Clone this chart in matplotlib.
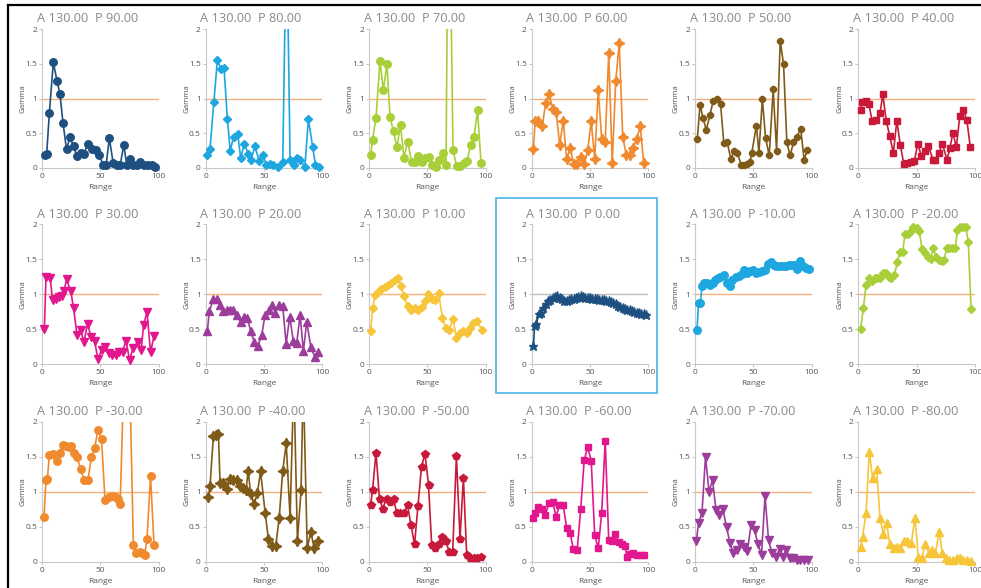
import matplotlib
matplotlib.use("Agg")
import matplotlib.pyplot as plt
import numpy as np
from matplotlib.lines import Line2D
from matplotlib.patches import Rectangle

plt.rcParams['font.family'] = ['Open Sans', 'DejaVu Sans']

# ---- data (Range vs Gamma for each phase P) ----
phases = [90, 80, 70, 60, 50, 40, 30, 20, 10, 0, -10, -20, -30, -40, -50, -60, -70, -80]
amp = 130.0

x_p90 = [2.6, 4, 6.3, 9.7, 12.9, 15.4, 18, 21, 24, 27, 30, 33, 36, 39, 42.6, 46, 49, 52.6, 55, 57.7,
         61, 64, 67, 70, 72.6, 75, 78, 81, 84, 87, 90.6, 94, 97]
g_p90 = [0.19, 0.2, 0.79, 1.52, 1.25, 1.06, 0.65, 0.27, 0.44, 0.31, 0.17, 0.21, 0.2, 0.35, 0.28, 0.26,
         0.18, 0.04, 0.05, 0.43, 0.07, 0.04, 0.04, 0.33, 0.05, 0.13, 0.05, 0.04, 0.08, 0.04, 0.04, 0.05, 0.02]

x_p80 = [1.4, 3.7, 7, 10, 13, 15.7, 18.6, 21, 24, 27.4, 30, 33, 36.6, 39, 42, 46, 49, 52, 55, 58,
         62, 66, 69.3, 72.3, 75.7, 78.6, 81, 85, 88, 91.7, 94, 97]
g_p80 = [0.19, 0.28, 0.95, 1.55, 1.43, 1.44, 0.7, 0.25, 0.45, 0.49, 0.14, 0.35, 0.2, 0.12, 0.31, 0.1,
         0.19, 0.04, 0.06, 0.04, 0.02, 0.08, 3.6, 0.12, 0.05, 0.14, 0.11, 0.02, 0.7, 0.3, 0.05, 0.02]

x_p70 = [1.4, 3, 6, 9.4, 12.3, 15.4, 18, 21, 24, 27, 30, 33, 36.6, 39, 42, 45, 48, 51, 54, 57,
         60, 63, 66, 68.2, 72, 75, 78, 81, 84, 87, 90, 93, 96]
g_p70 = [0.18, 0.41, 0.72, 1.54, 1.12, 1.5, 0.73, 0.53, 0.3, 0.62, 0.14, 0.38, 0.09, 0.08, 0.17, 0.09,
         0.15, 0.16, 0.04, 0.02, 0.12, 0.22, 0.04, 4.9, 0.26, 0.03, 0.03, 0.07, 0.1, 0.33, 0.45, 0.83, 0.07]

x_p60 = [1.4, 3, 5.7, 9, 12, 15, 18, 21, 24, 27, 30, 33, 36, 39, 42, 45, 48, 51, 54, 57,
         60, 63, 66, 69, 72, 75, 78, 81, 84, 87, 90, 93, 96]
g_p60 = [0.27, 0.68, 0.68, 0.6, 0.94, 1.06, 0.85, 0.8, 0.33, 0.68, 0.13, 0.29, 0.06, 0.06, 0.16, 0.06,
         0.26, 0.67, 0.13, 1.12, 0.42, 0.37, 1.66, 0.07, 1.25, 1.8, 0.45, 0.19, 0.19, 0.29, 0.42, 0.6, 0.07]

x_p50 = [2, 4.3, 6.8, 9.7, 12.8, 15.6, 18.5, 21.9, 24.7, 27.6, 30.7, 33.2, 36.4, 39.5, 42.3, 44.6, 46.9,
         48.6, 52.6, 54.8, 57.7, 60.5, 63.6, 67, 69.9, 73, 75.9, 78.7, 81.5, 84.4, 87.2, 90.6, 93.5, 96.3]
g_p50 = [0.42, 0.91, 0.72, 0.55, 0.76, 0.97, 0.99, 0.92, 0.36, 0.37, 0.13, 0.24, 0.21, 0.05, 0.05, 0.06,
         0.08, 0.21, 0.61, 0.22, 0.99, 0.43, 0.18, 1.13, 0.25, 1.83, 1.49, 0.37, 0.18, 0.37, 0.45, 0.56, 0.12, 0.26]

x_p40 = [2, 3.4, 6.6, 9, 12, 15, 18.6, 21, 24, 27, 30, 33, 36, 39, 42, 45, 48, 51, 54, 57,
         60, 64, 66, 69, 72, 76, 78.6, 81, 84, 87, 90, 93, 96]
g_p40 = [0.84, 0.95, 0.96, 0.92, 0.67, 0.69, 0.79, 1.06, 0.67, 0.46, 0.21, 0.68, 0.33, 0.06, 0.07, 0.08,
         0.1, 0.35, 0.17, 0.25, 0.32, 0.12, 0.12, 0.21, 0.35, 0.12, 0.29, 0.51, 0.3, 0.75, 0.84, 0.69, 0.3]

x_p30 = [2, 3.4, 7, 9, 12, 14.6, 17, 19, 21, 24.6, 27, 30, 33, 36, 39, 42, 45, 48, 51, 54,
         57, 60, 63, 66, 69, 72, 75, 78, 82, 85, 87, 90, 93, 96]
g_p30 = [0.5, 1.25, 1.24, 0.92, 0.94, 0.96, 0.97, 1.05, 1.22, 1.05, 0.81, 0.42, 0.49, 0.32, 0.58, 0.39,
         0.34, 0.07, 0.21, 0.25, 0.16, 0.14, 0.13, 0.18, 0.18, 0.34, 0.06, 0.23, 0.32, 0.2, 0.56, 0.75, 0.17, 0.41]

x_p20 = [1.4, 3.1, 6.6, 9.4, 12.3, 15.1, 18, 20.9, 23.7, 26.6, 30, 32.9, 35.7, 38.6, 41.7, 44.6, 48,
         50.9, 54, 56.9, 59.7, 62.6, 66, 68.9, 72, 75.1, 78, 80.9, 83.7, 86.6, 90, 93.7, 96.6]
g_p20 = [0.47, 0.76, 0.93, 0.93, 0.85, 0.76, 0.78, 0.78, 0.78, 0.71, 0.6, 0.68, 0.66, 0.47, 0.32, 0.26,
         0.42, 0.71, 0.78, 0.85, 0.73, 0.85, 0.84, 0.29, 0.68, 0.33, 0.3, 0.71, 0.19, 0.61, 0.25, 0.1, 0.17]

x_p10 = [1.4, 3.1, 5.1, 8, 10.6, 13.7, 16.6, 19.1, 22, 24.6, 27.1, 30, 33.1, 36, 39.1, 42, 45.1, 48,
         50.9, 53.7, 56.9, 59.7, 62.9, 65.7, 68.6, 72, 74.9, 78, 80.9, 83.7, 86.6, 89.4, 92.3, 96.9]
g_p10 = [0.48, 0.8, 0.99, 1.03, 1.08, 1.11, 1.13, 1.17, 1.2, 1.23, 1.12, 0.98, 0.83, 0.78, 0.8, 0.78,
         0.82, 0.9, 1.01, 0.94, 0.92, 1.02, 0.66, 0.52, 0.49, 0.65, 0.37, 0.45, 0.47, 0.45, 0.52, 0.59, 0.62, 0.49]

x_p0 = [1.5, 2.5, 4, 6, 8, 10, 12, 14, 16, 18, 20, 22, 24, 26, 28, 30, 32, 34, 36, 38, 40, 42, 44,
        46, 48, 50, 52, 54, 56, 58, 60, 62, 64, 66, 68, 70, 72, 74, 76, 78, 80, 82, 84, 86, 88, 90,
        92, 94, 96, 98]
g_p0 = [0.26, 0.55, 0.57, 0.72, 0.74, 0.8, 0.86, 0.9, 0.92, 0.95, 0.96, 0.97, 0.95, 0.94, 0.91, 0.91,
        0.92, 0.93, 0.94, 0.95, 0.96, 0.97, 0.96, 0.95, 0.95, 0.95, 0.94, 0.93, 0.93, 0.92, 0.92, 0.92,
        0.91, 0.9, 0.89, 0.87, 0.86, 0.84, 0.82, 0.8, 0.79, 0.78, 0.77, 0.76, 0.75, 0.74, 0.73, 0.72, 0.72, 0.71]

x_m10 = [1.7, 3, 4.6, 6, 8, 10, 12.6, 15, 17, 19.4, 21.7, 24.6, 27.4, 30, 32, 35, 37.7, 40, 42, 44.6,
         47, 50, 52.6, 55, 57.7, 60, 62.3, 65, 67.4, 69.7, 72.6, 75, 77.7, 80.6, 83, 85, 87.4, 90, 92.6,
         95.4, 97.7]
g_m10 = [0.49, 0.87, 0.87, 1.12, 1.17, 1.16, 1.13, 1.17, 1.2, 1.23, 1.25, 1.28, 1.17, 1.12, 1.2, 1.25,
         1.27, 1.29, 1.35, 1.3, 1.33, 1.35, 1.3, 1.32, 1.33, 1.35, 1.44, 1.47, 1.42, 1.4, 1.4, 1.41, 1.4,
         1.42, 1.42, 1.42, 1.36, 1.48, 1.4, 1.38, 1.37]

x_m20 = [2, 4.3, 6.6, 9, 11.7, 14, 16, 18.6, 21.4, 23.7, 26, 28, 31, 33.4, 35.7, 38, 40, 42.6, 45, 47,
         50, 52.3, 54.6, 57, 59.4, 62, 64, 66.6, 69, 71.4, 73.4, 75.7, 78, 80.6, 83, 85, 87.4, 89.7, 92,
         94.3, 96.6]
g_m20 = [0.51, 0.8, 1.13, 1.23, 1.19, 1.23, 1.24, 1.24, 1.3, 1.3, 1.25, 1.24, 1.28, 1.46, 1.6, 1.6,
         1.87, 1.87, 1.9, 1.97, 1.95, 1.9, 1.65, 1.59, 1.54, 1.5, 1.66, 1.54, 1.49, 1.48, 1.49, 1.66, 1.67,
         1.66, 1.66, 1.92, 1.97, 1.97, 1.97, 1.75, 0.79]

x_m30 = [1.7, 3.4, 4.6, 6.3, 9, 12.6, 15, 17.7, 20.6, 23, 25, 27.4, 30, 33, 36, 39.4, 42.3, 45, 48, 51,
         54, 57, 60, 63, 65, 67, 73, 78.3, 80.6, 84, 86, 88, 90, 93, 96]
g_m30 = [0.64, 1.17, 1.18, 1.52, 1.54, 1.44, 1.55, 1.67, 1.65, 1.64, 1.65, 1.55, 1.49, 1.33, 1.17, 1.17,
         1.49, 1.62, 1.88, 1.75, 0.88, 0.92, 0.94, 0.92, 0.89, 0.83, 4.3, 0.24, 0.13, 0.14, 0.12, 0.1,
         0.33, 1.22, 0.24]

x_m40 = [2.3, 3.7, 6.6, 8.9, 10.9, 12.3, 15, 18, 21, 23.7, 26.6, 29.4, 32, 34.6, 36.3, 38.6, 41.4, 44.3,
         47, 51, 53.7, 57, 60, 63, 66, 69, 72.3, 75.5, 78.6, 81.7, 83.6, 87, 90, 93, 96.6]
g_m40 = [0.93, 1.08, 1.8, 1.81, 1.83, 1.12, 1.13, 1.04, 1.18, 1.17, 1.17, 1.08, 1.05, 1.02, 1.3, 0.97,
         0.82, 0.98, 1.29, 0.69, 0.33, 0.22, 0.22, 0.63, 1.3, 1.69, 0.63, 2.6, 0.3, 1.02, 2.6, 0.19, 0.43,
         0.19, 0.29]

x_m50 = [1.4, 3, 6, 9, 11.7, 15, 18, 21, 23.7, 26.6, 30, 33, 36, 39, 42, 45, 48, 51, 53.7, 56.6, 59.7,
         62.9, 65.7, 68.9, 71.7, 74.9, 78, 80.9, 83.7, 86.6, 89.7, 92.9, 95.7]
g_m50 = [0.81, 1.02, 1.56, 0.89, 0.76, 0.9, 0.86, 0.9, 0.7, 0.7, 0.69, 0.81, 0.52, 0.25, 0.8, 1.36,
         1.54, 1.1, 0.24, 0.19, 0.25, 0.36, 0.29, 0.14, 0.14, 1.51, 0.33, 1.2, 0.1, 0.05, 0.05, 0.05, 0.07]

x_m60 = [1.4, 3, 5.7, 8.9, 11.7, 14.9, 18, 20.9, 23.7, 27, 30, 32.9, 35.7, 39, 42, 45, 48, 51, 54, 57,
         60, 63, 66, 68.9, 71.7, 74.6, 77.4, 80.3, 81.4, 84.3, 87, 90.6, 93.4, 96.3]
g_m60 = [0.62, 0.7, 0.78, 0.75, 0.67, 0.84, 0.86, 0.64, 0.81, 0.81, 0.48, 0.41, 0.18, 0.17, 0.75, 1.45,
         1.64, 1.44, 0.38, 0.19, 0.7, 1.73, 0.31, 0.29, 0.4, 0.28, 0.26, 0.23, 0.07, 0.11, 0.12, 0.09,
         0.09, 0.09]

x_m70 = [1.1, 3, 6, 9, 12, 15, 18, 20.9, 24, 27, 30, 32.9, 35.7, 38.9, 41.7, 44.9, 48, 51, 54, 57, 60,
         63, 66, 69, 72.6, 75.4, 78.3, 81, 84.3, 87.4, 90.3, 93, 96.9]
g_m70 = [0.29, 0.55, 0.7, 1.5, 1.0, 1.17, 0.74, 0.67, 0.75, 0.49, 0.27, 0.12, 0.17, 0.25, 0.21, 0.16,
         0.52, 0.45, 0.25, 0.1, 0.94, 0.31, 0.12, 0.07, 0.18, 0.07, 0.17, 0.05, 0.05, 0.03, 0.03, 0.03, 0.03]

x_m80 = [2, 3.7, 6.6, 9.4, 12.3, 15.7, 18.6, 21.4, 24.3, 27, 30.3, 33, 36, 39, 42, 45.4, 48.6, 51.4,
         54.3, 57.4, 60.3, 63, 66, 69.4, 72, 75, 78, 81.4, 84.3, 87, 90, 93.4, 96.3]
g_m80 = [0.21, 0.36, 0.69, 1.57, 1.19, 1.33, 0.62, 0.4, 0.55, 0.25, 0.19, 0.21, 0.19, 0.29, 0.29, 0.27,
         0.62, 0.07, 0.05, 0.25, 0.13, 0.17, 0.12, 0.43, 0.12, 0.06, 0.02, 0.02, 0.05, 0.05, 0.02, 0.02, 0.01]

xs = [x_p90, x_p80, x_p70, x_p60, x_p50, x_p40, x_p30, x_p20, x_p10,
      x_p0, x_m10, x_m20, x_m30, x_m40, x_m50, x_m60, x_m70, x_m80]
gs = [g_p90, g_p80, g_p70, g_p60, g_p50, g_p40, g_p30, g_p20, g_p10,
      g_p0, g_m10, g_m20, g_m30, g_m40, g_m50, g_m60, g_m70, g_m80]

# colour / marker per panel
navy, sky, lime, orange = '#1d4f80', '#1ea6e0', '#a9cf38', '#f08a2e'
brown, crimson, magenta, purple, gold = '#805a18', '#c8193a', '#e3178d', '#9c3d9b', '#f7c53a'
colors = [navy, sky, lime, orange, brown, crimson, magenta, purple, gold,
          navy, sky, lime, orange, brown, crimson, magenta, purple, gold]
star4 = (4, 1, 0)
markers = ['o', 'D', 'o', star4, '8', 's', 'v', '^', 'D',
           '*', 'o', 'D', 'o', star4, 'p', 's', 'v', '^']
msizes = {'o': 5.4, 'D': 4.4, '8': 5.4, 's': 4.8, 'v': 5.8, '^': 5.8, '*': 6.5, 'p': 5.6, star4: 7.5}

# ---- layout in pixels (figure 981 x 588) ----
W, H = 981, 588
col_x0 = [42, 205.7, 369, 531.7, 695, 858.3]
row_y0 = [168, 364.3, 561.7]
row_y2 = [29, 224.5, 421.7]
ax_w = 116.7

fig = plt.figure(figsize=(W / 100, H / 100), dpi=100)

for i, (p, x, g) in enumerate(zip(phases, xs, gs)):
    r, c = divmod(i, 6)
    left = col_x0[c] / W
    bottom = 1 - row_y0[r] / H
    height = (row_y0[r] - row_y2[r]) / H
    ax = fig.add_axes([left, bottom, ax_w / W, height])

    x = np.array(x)
    g = np.array(g)
    ref_col = '#bdbdbd' if p == 0 else '#f6b07c'
    ax.axhline(1, color=ref_col, lw=1.0, zorder=1)
    ax.plot(x, g, color=colors[i], lw=1.2, zorder=3)
    keep = g <= 2.05
    m = markers[i]
    ax.plot(x[keep], g[keep], ls='none', marker=m, ms=msizes[m], color=colors[i],
            clip_on=False, zorder=4)

    ax.set_xlim(0, 100)
    ax.set_ylim(0, 2)
    ax.set_xticks([0, 50, 100])
    ax.set_yticks([0, 0.5, 1, 1.5, 2])
    ax.set_yticklabels(['0', '0.5', '1', '1.5', '2'])
    for s in ['top', 'right']:
        ax.spines[s].set_visible(False)
    for s in ['left', 'bottom']:
        ax.spines[s].set_color('#c8c8c8')
        ax.spines[s].set_linewidth(0.8)
    ax.tick_params(length=2, width=0.6, color='#bbbbbb', labelsize=6,
                   labelcolor='#555555', pad=1.5)
    ax.set_xlabel('Range', fontsize=6, color='#555555')
    ax.set_ylabel('Gamma', fontsize=5.6, color='#555555')
    ax.xaxis.set_label_coords(0.5, -0.115)
    ax.yaxis.set_label_coords(-0.13, 0.5)
    ax.text(-0.045, 1.075, 'A %.2f  P %.2f' % (amp, p), transform=ax.transAxes,
            fontsize=9.2, color='#8a8a8a', ha='left', va='center')

# highlight box around the P 0.00 panel
fig.add_artist(Rectangle((496 / W, 1 - 393 / H), 161 / W, 195 / H, transform=fig.transFigure,
                         fill=False, edgecolor='#5bb8e8', lw=1.3))

# screenshot frame edges (top and left)
fig.add_artist(Line2D([8 / W, 1], [1 - 5 / H, 1 - 5 / H], transform=fig.transFigure,
                      color='black', lw=1.6))
fig.add_artist(Line2D([8 / W, 8 / W], [0, 1 - 5 / H], transform=fig.transFigure,
                      color='black', lw=1.6))

fig.savefig('out.png', dpi=100)
